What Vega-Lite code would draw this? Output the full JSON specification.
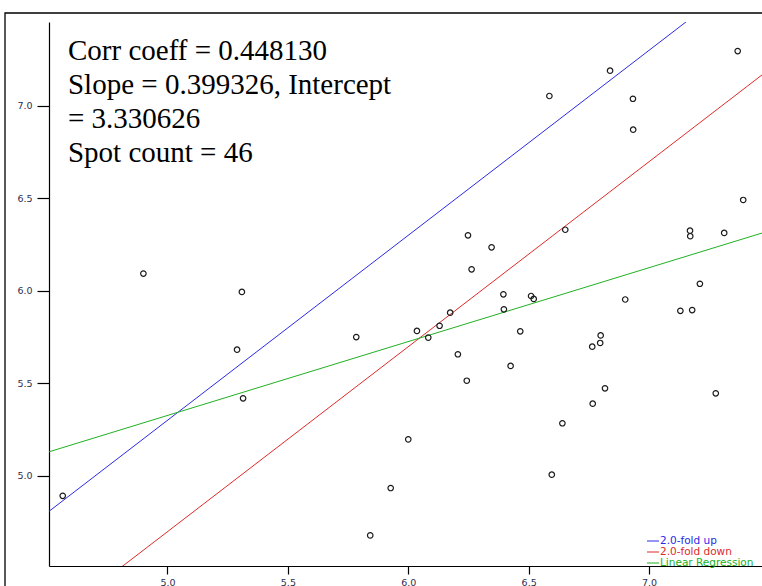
{
  "$schema": "https://vega.github.io/schema/vega-lite/v6.json",
  "width": 713,
  "height": 544,
  "autosize": {"type": "none"},
  "padding": {"left": 49, "top": 22, "right": 0, "bottom": 20},
  "background": "white",
  "config": {
    "view": {"stroke": null},
    "axis": {
      "domainColor": "#000000",
      "domainWidth": 1.2,
      "tickColor": "#000000",
      "tickWidth": 1.2,
      "grid": false,
      "labelColor": "#2e2e4e",
      "labelFont": "DejaVu Sans",
      "labelFontSize": 9.5,
      "title": null
    }
  },
  "datasets": {
    "spots": [
      {"x": 4.565, "y": 4.893},
      {"x": 4.900, "y": 6.094},
      {"x": 5.309, "y": 5.995},
      {"x": 5.289, "y": 5.683},
      {"x": 5.314, "y": 5.420},
      {"x": 6.248, "y": 6.301},
      {"x": 6.346, "y": 6.236},
      {"x": 6.263, "y": 6.117},
      {"x": 6.395, "y": 5.982},
      {"x": 6.510, "y": 5.973},
      {"x": 6.521, "y": 5.957},
      {"x": 6.397, "y": 5.901},
      {"x": 6.174, "y": 5.883},
      {"x": 6.130, "y": 5.812},
      {"x": 6.036, "y": 5.784},
      {"x": 5.784, "y": 5.751},
      {"x": 6.083, "y": 5.748},
      {"x": 6.465, "y": 5.782},
      {"x": 6.206, "y": 5.658},
      {"x": 6.425, "y": 5.595},
      {"x": 6.243, "y": 5.515},
      {"x": 6.000, "y": 5.198},
      {"x": 5.927, "y": 4.935},
      {"x": 5.842, "y": 4.679},
      {"x": 6.586, "y": 7.054},
      {"x": 6.838, "y": 7.191},
      {"x": 6.933, "y": 7.039},
      {"x": 6.934, "y": 6.872},
      {"x": 7.368, "y": 7.297},
      {"x": 6.652, "y": 6.331},
      {"x": 7.391, "y": 6.492},
      {"x": 7.170, "y": 6.326},
      {"x": 7.171, "y": 6.296},
      {"x": 7.312, "y": 6.314},
      {"x": 7.211, "y": 6.039},
      {"x": 6.901, "y": 5.954},
      {"x": 7.130, "y": 5.893},
      {"x": 7.179, "y": 5.897},
      {"x": 6.799, "y": 5.760},
      {"x": 6.797, "y": 5.719},
      {"x": 6.764, "y": 5.699},
      {"x": 6.817, "y": 5.474},
      {"x": 6.766, "y": 5.391},
      {"x": 7.277, "y": 5.447},
      {"x": 6.640, "y": 5.285},
      {"x": 6.596, "y": 5.007}
    ],
    "lines": [
      {"series": "2.0-fold up", "x": 4.3, "y": 4.601},
      {"series": "2.0-fold up", "x": 7.6, "y": 7.901},
      {"series": "2.0-fold down", "x": 4.3, "y": 3.999},
      {"series": "2.0-fold down", "x": 7.6, "y": 7.299},
      {"series": "Linear Regression", "x": 4.3, "y": 5.0477},
      {"series": "Linear Regression", "x": 7.6, "y": 6.3655}
    ],
    "annotation": [
      {"label": ["Corr coeff = 0.448130", "Slope = 0.399326, Intercept", "= 3.330626", "Spot count = 46"]}
    ]
  },
  "layer": [
    {
      "data": {"values": [{}]},
      "mark": {"type": "rect", "filled": false, "stroke": "#000000", "strokeWidth": 1.3, "clip": false},
      "encoding": {
        "x": {"datum": 4.3253, "type": "quantitative", "scale": {"domain": [4.508, 7.469], "nice": false, "zero": false}},
        "x2": {"datum": 7.7},
        "y": {"datum": 7.5027, "type": "quantitative", "scale": {"domain": [4.5135, 7.454], "nice": false, "zero": false}},
        "y2": {"datum": 4.2}
      }
    },
    {
      "data": {"name": "lines"},
      "mark": {"type": "line", "strokeWidth": 1, "clip": true},
      "encoding": {
        "x": {"field": "x", "type": "quantitative",
              "axis": {"values": [5.0, 5.5, 6.0, 6.5, 7.0], "format": ".1f", "tickSize": 8, "labelPadding": 3}},
        "y": {"field": "y", "type": "quantitative",
              "axis": {"values": [5.0, 5.5, 6.0, 6.5, 7.0], "format": ".1f", "tickSize": 12, "labelPadding": 5}},
        "color": {
          "field": "series", "type": "nominal",
          "scale": {"domain": ["2.0-fold up", "2.0-fold down", "Linear Regression"], "range": ["#2a2ae6", "#e02a2a", "#22b022"]},
          "legend": {
            "title": null,
            "orient": "none",
            "legendX": 597,
            "legendY": 514,
            "symbolType": "stroke",
            "symbolSize": 144,
            "symbolStrokeWidth": 1.2,
            "labelOffset": 0,
            "clipHeight": 10,
            "rowPadding": 0,
            "labelFont": "DejaVu Sans",
            "labelFontSize": 10.5,
            "labelColor": {"expr": "datum.label == '2.0-fold up' ? '#2a2ae6' : datum.label == '2.0-fold down' ? '#e02a2a' : '#22b022'"}
          }
        },
        "order": {"field": "x"}
      }
    },
    {
      "data": {"name": "spots"},
      "mark": {"type": "point", "shape": "circle", "filled": false, "stroke": "#1a1a1a", "strokeWidth": 1.2, "size": 30, "opacity": 1},
      "encoding": {
        "x": {"field": "x", "type": "quantitative"},
        "y": {"field": "y", "type": "quantitative"}
      }
    },
    {
      "data": {"name": "annotation"},
      "mark": {"type": "text", "align": "left", "baseline": "alphabetic", "font": "Liberation Serif", "fontSize": 29, "lineHeight": 34, "color": "#000000", "clip": false},
      "encoding": {
        "x": {"datum": 4.5868, "type": "quantitative"},
        "y": {"datum": 7.2513, "type": "quantitative"},
        "text": {"field": "label"}
      }
    }
  ]
}
